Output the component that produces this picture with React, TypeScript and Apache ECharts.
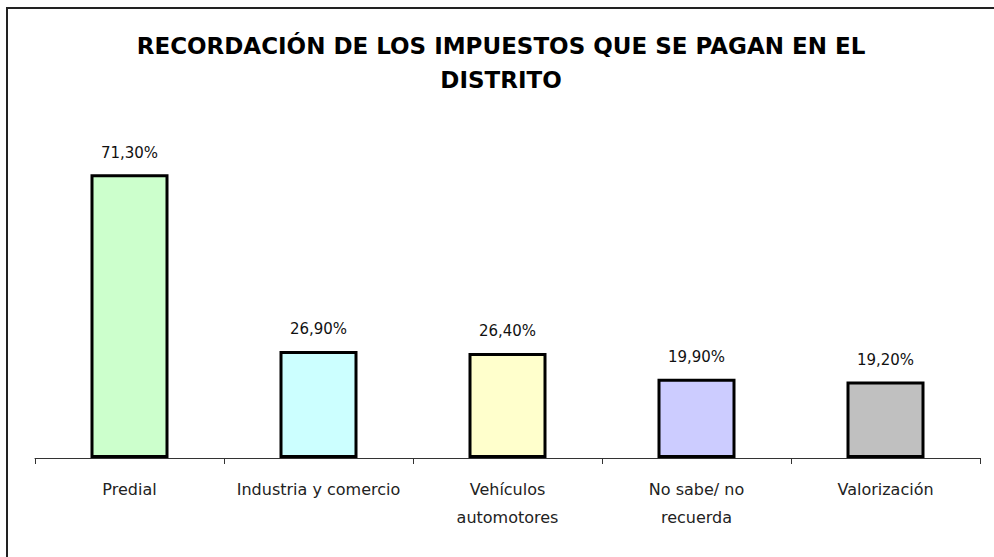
import React, { useEffect, useRef } from "react";
import * as echarts from "echarts";

const titleText = "RECORDACIÓN DE LOS IMPUESTOS QUE SE PAGAN EN EL\nDISTRITO";
const categories = ["Predial", "Industria y comercio", "Vehículos\nautomotores", "No sabe/ no\nrecuerda", "Valorización"];
const values = [71.3, 26.9, 26.4, 19.9, 19.2];
const colors = ["#CCFFCC", "#CCFFFF", "#FFFFCC", "#CCCCFF", "#C0C0C0"];

export default function App() {
  const ref = useRef<HTMLDivElement>(null);
  useEffect(() => {
    if (!ref.current) return;
    const chart = echarts.init(ref.current, null, { renderer: "svg" });
    chart.setOption({
      animation: false,
      backgroundColor: "#ffffff",
      title: {
        text: titleText,
        left: 496,
        top: 24,
        textAlign: "center",
        textStyle: {
          fontFamily: "DejaVu Sans, Liberation Sans, Arial, sans-serif",
          fontWeight: "bold",
          fontSize: 23,
          lineHeight: 34,
          color: "#000",
        },
      },
      graphic: [
        {
          type: "rect",
          shape: { x: 7, y: 8, width: 1000, height: 600 },
          style: { fill: "none", stroke: "#222", lineWidth: 2 },
          silent: true,
        },
      ],
      grid: { left: 35, right: 14, top: 139.6, bottom: 99 },
      xAxis: {
        type: "category",
        data: categories,
        axisLine: { lineStyle: { color: "#333", width: 1 } },
        axisTick: { show: true, length: 6, lineStyle: { color: "#333" } },
        axisLabel: {
          interval: 0,
          margin: 24,
          fontFamily: "DejaVu Sans, Liberation Sans, Arial, sans-serif",
          fontSize: 16,
          lineHeight: 28,
          color: "#222",
          verticalAlign: "top",
          padding: [-7, 0, 0, 0],
        },
      },
      yAxis: {
        type: "value",
        min: 0,
        max: 80,
        show: false,
        splitLine: { show: false },
      },
      series: [
        {
          type: "bar",
          barWidth: 78,
          data: values.map((v, i) => ({
            value: v,
            itemStyle: { color: colors[i], borderColor: "#000", borderWidth: 3 },
          })),
          label: {
            show: true,
            position: "top",
            distance: 14,
            fontFamily: "DejaVu Sans, Liberation Sans, Arial, sans-serif",
            fontSize: 15,
            color: "#111",
            formatter: (p: any) => p.value.toFixed(2).replace(".", ",") + "%",
          },
        },
      ],
    });
    return () => chart.dispose();
  }, []);
  return (
    <div
      ref={ref}
      style={{ position: "fixed", left: 0, top: 0, width: 994, height: 557 }}
    />
  );
}
